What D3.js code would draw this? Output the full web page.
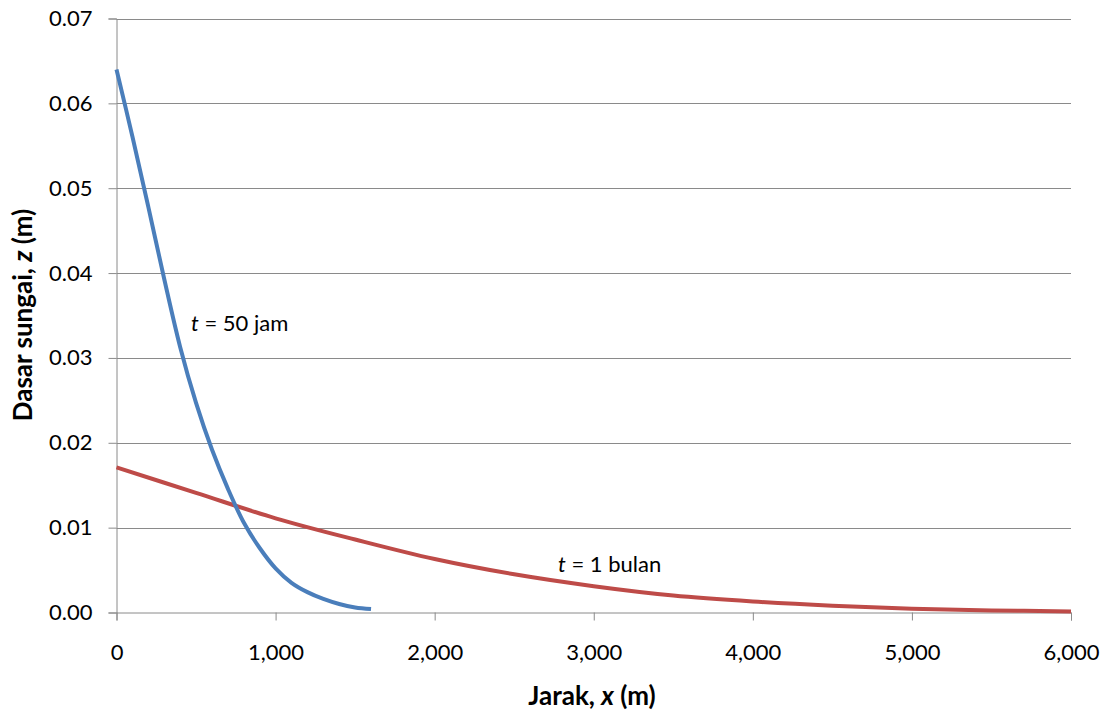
<!DOCTYPE html>
<html>
<head>
<meta charset="utf-8">
<script src="https://cdn.jsdelivr.net/npm/d3@7"></script>
<style>
  html, body { margin: 0; padding: 0; background: #fff; }
  svg { display: block; }
  text { font-family: "Lato", "Open Sans", sans-serif; fill: #000; }
</style>
</head>
<body>
<svg id="chart" width="1112" height="716"></svg>
<script>
// ---- data ----
const xBlue = [0, 100, 200, 300, 400, 500, 600, 700, 800, 900, 1000, 1100, 1200, 1300, 1400, 1500, 1600];
const zBlue = [0.064, 0.0561, 0.0478, 0.0393, 0.0313, 0.0247, 0.0192, 0.0146, 0.0106, 0.0076, 0.0052, 0.0035, 0.0024, 0.0016, 0.0010, 0.0006, 0.0004];
const xRed = [0, 500, 1000, 1500, 2000, 2500, 3000, 3500, 4000, 4500, 5000, 5500, 6000];
const zRed = [0.0171, 0.0141, 0.0111, 0.0086, 0.0063, 0.0045, 0.0031, 0.0020, 0.0013, 0.0008, 0.00045, 0.00025, 0.00012];
const xTicks = [0, 1000, 2000, 3000, 4000, 5000, 6000];
const yTicks = [0, 0.01, 0.02, 0.03, 0.04, 0.05, 0.06, 0.07];
const seriesNames = ["t = 50 jam", "t = 1 bulan"];
const xTitle = "Jarak, x (m)";
const yTitle = "Dasar sungai, z (m)";

// ---- layout ----
const svg = d3.select("#chart");
const L = 116.5, R = 1071, T = 18.5, B = 612.5;
const x = d3.scaleLinear().domain([0, 6000]).range([L, R]);
const y = d3.scaleLinear().domain([0, 0.07]).range([B, T]);
const gridColor = "#8a8a8a";

// gridlines
svg.append("g").selectAll("line").data(yTicks.filter(d => d > 0)).join("line")
  .attr("x1", L).attr("x2", R)
  .attr("y1", d => Math.round(y(d)) + 0.5).attr("y2", d => Math.round(y(d)) + 0.5)
  .attr("stroke", gridColor).attr("stroke-width", 1);

// y axis
const yAxis = svg.append("g").attr("transform", `translate(${L},0)`)
  .call(d3.axisLeft(y).tickValues(yTicks).tickFormat(d3.format(".2f")).tickSize(8).tickPadding(16));
yAxis.select(".domain").attr("stroke", gridColor);
yAxis.selectAll(".tick line").attr("stroke", gridColor);
yAxis.selectAll(".tick text").style("font-size", "22px").attr("fill", "#000");

// x axis
const xAxis = svg.append("g").attr("transform", `translate(0,${B})`)
  .call(d3.axisBottom(x).tickValues(xTicks).tickFormat(d3.format(",")).tickSize(8).tickPadding(24));
xAxis.select(".domain").attr("stroke", gridColor);
xAxis.selectAll(".tick line").attr("stroke", gridColor);
xAxis.selectAll(".tick text").style("font-size", "22px").attr("fill", "#000");

// lines
const line = d3.line().x(d => x(d[0])).y(d => y(d[1])).curve(d3.curveCatmullRom.alpha(0.5));
svg.append("path").datum(xRed.map((v, i) => [v, zRed[i]]))
  .attr("d", line).attr("fill", "none").attr("stroke", "#be4b48").attr("stroke-width", 4);
svg.append("path").datum(xBlue.map((v, i) => [v, zBlue[i]]))
  .attr("d", line).attr("fill", "none").attr("stroke", "#4a7ebb").attr("stroke-width", 4);

// series labels
function seriesLabel(txt, px, py) {
  const t = svg.append("text").attr("x", px).attr("y", py).style("font-size", "22px");
  const parts = txt.split(" = ");
  t.append("tspan").attr("font-style", "italic").text(parts[0]);
  t.append("tspan").text(" = " + parts[1]);
}
seriesLabel(seriesNames[0], 191, 331);
seriesLabel(seriesNames[1], 558, 572);

// axis titles
function title(txt, el) {
  const m = txt.match(/^(.*, )(\w)( .*)$/);
  el.append("tspan").text(m[1]);
  el.append("tspan").attr("font-style", "italic").text(m[2]);
  el.append("tspan").text(m[3]);
}
const xt = svg.append("text").attr("x", 592).attr("y", 705)
  .attr("text-anchor", "middle").style("font-size", "26px").style("font-weight", "bold");
title(xTitle, xt);
const yt = svg.append("text").attr("transform", `translate(32,315) rotate(-90)`)
  .attr("text-anchor", "middle").style("font-size", "26px").style("font-weight", "bold");
title(yTitle, yt);
</script>
</body>
</html>
